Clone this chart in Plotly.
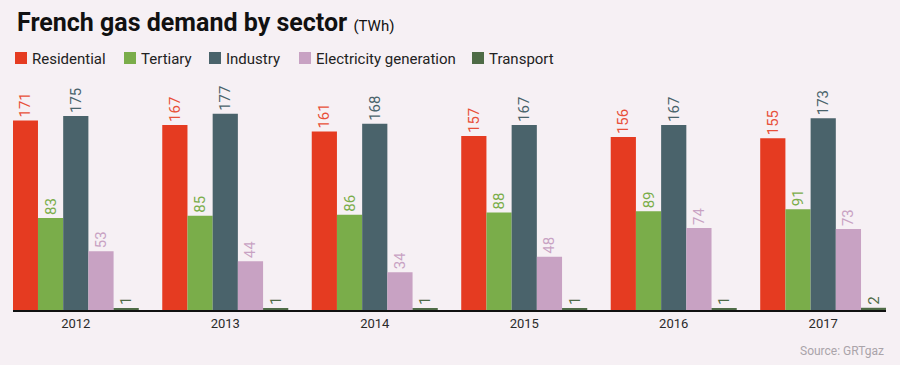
import plotly.graph_objects as go

years = ["2012", "2013", "2014", "2015", "2016", "2017"]
sectors = ["Residential", "Tertiary", "Industry", "Electricity generation", "Transport"]
residential = [171, 167, 161, 157, 156, 155]
tertiary = [83, 85, 86, 88, 89, 91]
industry = [175, 177, 168, 167, 167, 173]
electricity = [53, 44, 34, 48, 74, 73]
transport = [1, 1, 1, 1, 1, 2]

series = [residential, tertiary, industry, electricity, transport]
colors = ["#e53b21", "#7aad4a", "#4a636b", "#c8a2c3", "#4e6b46"]
label_colors = ["#e8503a", "#7aad4a", "#4a636b", "#c8a2c3", "#4e6b46"]
legend_x = [15, 124, 209, 299, 472]

FONT = "Roboto, Lato, sans-serif"
BG = "#f6f0f4"
L, T, B = 13, 85, 55
PW = 900 - L - 14

fig = go.Figure()
for name, vals, c, lc in zip(sectors, series, colors, label_colors):
    fig.add_trace(go.Bar(
        x=years, y=vals, name=name, marker=dict(color=c, line=dict(width=0)),
        text=[str(v) for v in vals], textposition="outside", textangle=-90,
        textfont=dict(family=FONT, size=15, color=lc), cliponaxis=False,
        showlegend=False,
    ))

fig.update_layout(
    width=900, height=365, barmode="group", bargap=0.157, bargroupgap=0,
    paper_bgcolor=BG, plot_bgcolor=BG,
    margin=dict(l=L, r=14, t=T, b=B),
    xaxis=dict(range=[-0.42, 5.42], showline=True, linecolor="#111", linewidth=2,
               ticks="", tickfont=dict(family=FONT, size=13, color="#2a2a2a"),
               showgrid=False, fixedrange=True),
    yaxis=dict(range=[0, 203], visible=False, showgrid=False),
    font=dict(family=FONT),
)

# title
fig.add_annotation(xref="paper", yref="paper", x=(15 - L) / PW, y=1, yshift=T - 22,
                   xanchor="left", yanchor="middle", showarrow=False,
                   text="<b>French gas demand by sector</b> <span style='font-size:15px'>(TWh)</span>",
                   font=dict(family=FONT, size=25, color="#111"))

# legend (manual, to match the compact swatch/text layout)
for name, c, lx in zip(sectors, colors, legend_x):
    fig.add_shape(type="rect", xref="paper", yref="paper",
                  xsizemode="pixel", xanchor=(lx - L) / PW, x0=0, x1=12,
                  ysizemode="pixel", yanchor=1, y0=T - 64, y1=T - 52,
                  line=dict(width=0), fillcolor=c)
    fig.add_annotation(xref="paper", yref="paper", x=(lx + 15 - L) / PW, y=1,
                       yshift=T - 58.5, xanchor="left", yanchor="middle", showarrow=False,
                       text=name, font=dict(family=FONT, size=15, color="#222"))

fig.add_annotation(xref="paper", yref="paper", x=1, y=0, yshift=-40.5,
                   xanchor="right", yanchor="middle", showarrow=False,
                   text="Source: GRTgaz", font=dict(family=FONT, size=12, color="#aaa4aa"))

fig.write_html("out.html", config={"displayModeBar": False},
               post_script="document.body.style.margin='0';")
